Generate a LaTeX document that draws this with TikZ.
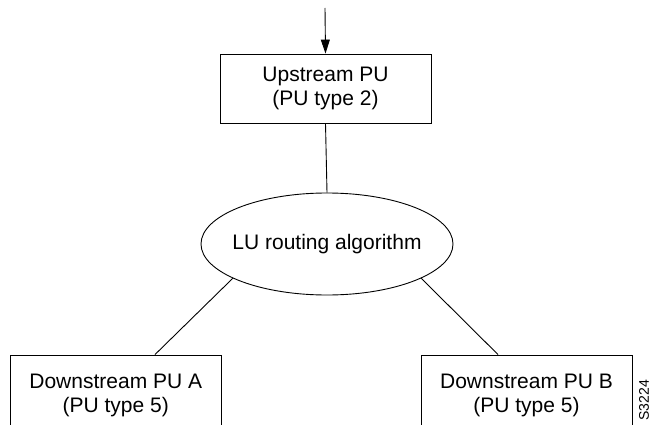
\documentclass[tikz,border=0pt]{standalone}
\usepackage{fontspec}
\setmainfont{Liberation Sans}
\usetikzlibrary{arrows.meta,shapes.geometric}
\begin{document}
\begin{tikzpicture}[x=1pt,y=1pt,
  every node/.style={font=\fontsize{21}{24}\selectfont, align=center, inner sep=0pt},
  pubox/.style={draw, line width=0.9pt, rectangle},
  conn/.style={line width=0.9pt}]
\useasboundingbox (0,0) rectangle (650,424);
\clip (0,0) rectangle (650,424);
\node[pubox, minimum width=211pt, minimum height=69pt] (up) at (325.5,335.5) {Upstream PU\\(PU type 2)};
\node[draw, ellipse, line width=0.9pt, inner xsep=-10pt, minimum width=252pt, minimum height=102pt] (ell) at (327,180) {LU routing algorithm};
\node[pubox, minimum width=210.5pt, minimum height=80pt] (lbox) at (115.75,29) {Downstream PU A\\(PU type 5)};
\node[pubox, minimum width=211pt, minimum height=80pt] (rbox) at (526.5,29) {Downstream PU B\\(PU type 5)};
\coordinate (src) at (325,416);
\draw[conn, -{Triangle[length=14pt,width=9pt]}] (src) -- (up.north);
\draw[conn] (up.south) -- (ell.north);
\draw[conn] (ell.200) -- ([xshift=39.25pt]lbox.north);
\draw[conn] (ell.340) -- ([xshift=-28.5pt]rbox.north);
\node[rotate=90, anchor=north east, font=\fontsize{14}{14}\selectfont] (fig) at (639,44) {S3224};
\end{tikzpicture}
\end{document}
